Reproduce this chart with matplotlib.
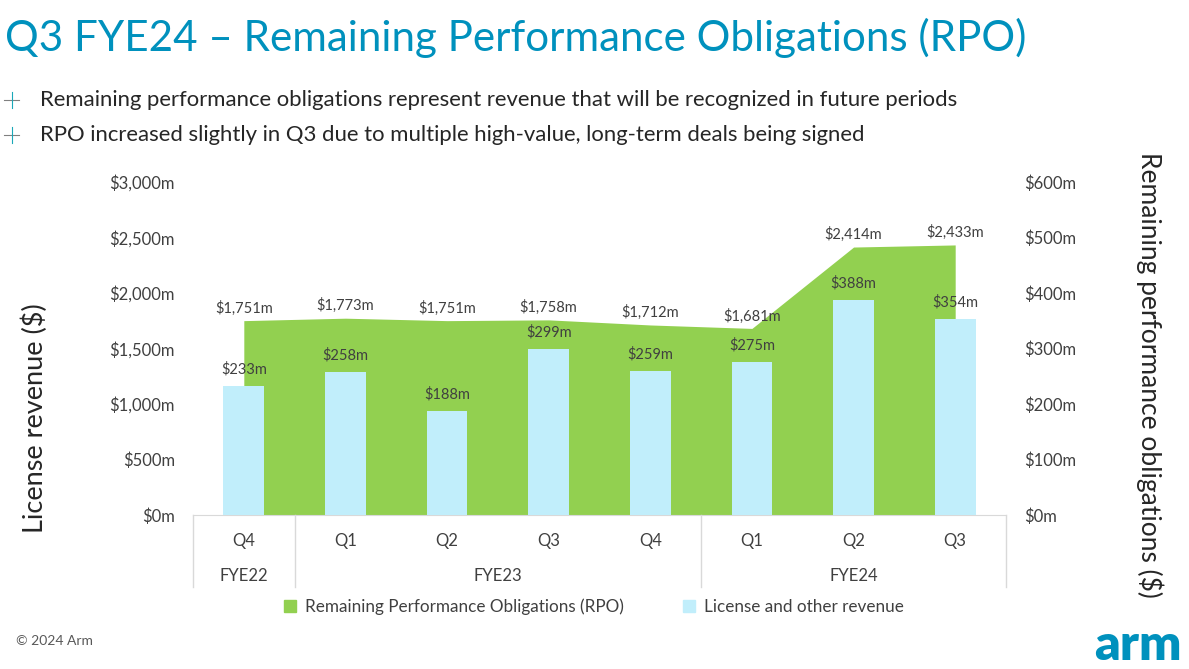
import numpy as np
import matplotlib.pyplot as plt
from matplotlib.patches import Patch
from matplotlib.lines import Line2D

plt.rcParams['font.family'] = ['Lato', 'DejaVu Sans']

# data
quarters = ['Q4', 'Q1', 'Q2', 'Q3', 'Q4', 'Q1', 'Q2', 'Q3']
rpo = [1751, 1773, 1751, 1758, 1712, 1681, 2414, 2433]
license_rev = [233, 258, 188, 299, 259, 275, 388, 354]
years = ['FYE22', 'FYE23', 'FYE24']
year_span = [(0, 0), (1, 4), (5, 7)]

green = '#92D050'
blue = '#C1EEFB'
armblue = '#0091BD'
txt = '#404040'

W, H = 1189, 669
fig = plt.figure(figsize=(W / 100, H / 100), dpi=100)

def fx(px):
    return px / W

def fy(py):
    return 1 - py / H

ax = fig.add_axes([fx(193), fy(515), fx(1006) - fx(193), fy(182) - fy(515)])
ax2 = ax.twinx()

x = np.arange(len(quarters))
ax.fill_between(x, rpo, 0, color=green, lw=0)
ax2.bar(x, license_rev, width=0.4, color=blue)

ax.set_xlim(-0.5, len(quarters) - 0.5)
ax.set_ylim(0, 3000)
ax2.set_ylim(0, 600)
ax.set_yticks(np.arange(0, 3001, 500))
ax2.set_yticks(np.arange(0, 601, 100))
ax.set_yticklabels(['${:,}m'.format(v) for v in range(0, 3001, 500)])
ax2.set_yticklabels(['${}m'.format(v) for v in range(0, 601, 100)])
ax.set_xticks([])
for a in (ax, ax2):
    a.tick_params(axis='y', length=0, pad=13, labelsize=12, labelcolor=txt)
    for s in a.spines.values():
        s.set_visible(False)
ax.spines['bottom'].set_visible(True)
ax.spines['bottom'].set_color('#D9D9D9')

for i, v in enumerate(rpo):
    ax.annotate('${:,}m'.format(v), (i, v), xytext=(0, 9), textcoords='offset points',
                ha='center', va='center', fontsize=10.5, color=txt)
for i, v in enumerate(license_rev):
    ax2.annotate('${}m'.format(v), (i, v), xytext=(0, 12), textcoords='offset points',
                 ha='center', va='center', fontsize=10.5, color=txt)

# category table under the axis
tr = ax.get_xaxis_transform()
for i, q in enumerate(quarters):
    ax.text(i, -0.078, q, transform=tr, ha='center', va='center', fontsize=12, color=txt)
for name, (a, b) in zip(years, year_span):
    ax.text((a + b) / 2, -0.183, name, transform=tr, ha='center', va='center',
            fontsize=12, color=txt)
for xb in [-0.5, 0.5, 4.5, 7.5]:
    ax.add_line(Line2D([xb, xb], [0, -0.216], transform=tr, color='#D9D9D9',
                       lw=1, clip_on=False))

# axis titles
fig.text(fx(35), fy(418), 'License revenue ($)', rotation=90, ha='center', va='center',
         fontsize=19.5, color='#262626')
fig.text(fx(1150), fy(375), 'Remaining performance obligations ($)', rotation=270,
         ha='center', va='center', fontsize=19, color='#262626')

# legend
handles = [Patch(color=green, label='Remaining Performance Obligations (RPO)'),
           Patch(color=blue, label='License and other revenue')]
fig.legend(handles=handles, loc='center', bbox_to_anchor=(fx(594), fy(607)), ncol=2,
           frameon=False, fontsize=12.3, handlelength=0.7, handleheight=0.7,
           columnspacing=3.5, handletextpad=0.5, labelcolor=txt)

# title and bullets
fig.text(fx(5), fy(38), 'Q3 FYE24 \u2013 Remaining Performance Obligations (RPO)',
         ha='left', va='center', fontsize=30.3, color=armblue)
bullets = ['Remaining performance obligations represent revenue that will be recognized in future periods',
           'RPO increased slightly in Q3 due to multiple high-value, long-term deals being signed']
for yy, b in zip([100, 135], bullets):
    fig.add_artist(Line2D([fx(4), fx(19)], [fy(yy), fy(yy)], color='#808080', lw=0.8))
    fig.add_artist(Line2D([fx(11.5), fx(11.5)], [fy(yy - 8), fy(yy + 8)], color='#1AA8B8', lw=0.8))
    fig.text(fx(40), fy(yy), b, ha='left', va='center', fontsize=15.9, color='#262626')

fig.text(fx(16), fy(641), '\u00a9 2024 Arm', ha='left', va='center', fontsize=10, color='#595959')
fig.text(fx(1182), fy(645), 'arm', ha='right', va='center', fontsize=36, fontweight='heavy',
         color=armblue)

fig.savefig('out.png', dpi=100)
